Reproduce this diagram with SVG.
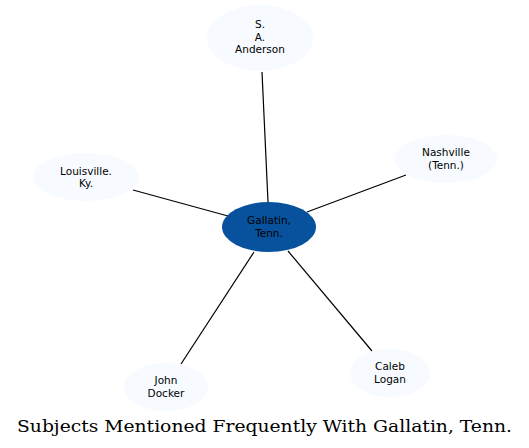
<svg xmlns="http://www.w3.org/2000/svg" width="529" height="448" viewBox="0 0 529 448">
<style>
.n{fill:#f7fbff;stroke:none}
.c{fill:#08519c;stroke:none}
.t{font-family:"DejaVu Sans",sans-serif;font-size:10.5px;text-anchor:middle;fill:#000}
.e{stroke:#000;stroke-width:1.2;fill:none}
.title{font-family:"DejaVu Serif",serif;font-size:16.5px;text-anchor:middle;fill:#000}
</style>
<rect width="529" height="448" fill="#fff"/>
<g id="edges">
<path class="e" d="M262,72L268,202"/>
<path class="e" d="M406,175L307,212"/>
<path class="e" d="M133,190L228,216"/>
<path class="e" d="M254,252L181,364"/>
<path class="e" d="M288,251L372,351"/>
</g>
<g id="anderson"><ellipse class="n" cx="260" cy="38" rx="53" ry="33"/><text class="t" x="260" y="28">S.</text><text class="t" x="260" y="40.5">A.</text><text class="t" x="260" y="53">Anderson</text></g>
<g id="gallatin"><ellipse class="c" cx="269" cy="227" rx="47" ry="25"/><text class="t" x="269" y="224">Gallatin,</text><text class="t" x="269" y="236.5">Tenn.</text></g>
<g id="nashville"><ellipse class="n" cx="446" cy="159" rx="51" ry="24"/><text class="t" x="446" y="156">Nashville</text><text class="t" x="446" y="168.5">(Tenn.)</text></g>
<g id="louisville"><ellipse class="n" cx="86" cy="177" rx="53" ry="24"/><text class="t" x="86" y="174.5">Louisville.</text><text class="t" x="86" y="187">Ky.</text></g>
<g id="john"><ellipse class="n" cx="166" cy="387" rx="42" ry="24"/><text class="t" x="166" y="384">John</text><text class="t" x="166" y="396.5">Docker</text></g>
<g id="caleb"><ellipse class="n" cx="390" cy="373" rx="40" ry="24"/><text class="t" x="390" y="370">Caleb</text><text class="t" x="390" y="382.5">Logan</text></g>
<text class="title" x="264.5" y="432" textLength="495" lengthAdjust="spacingAndGlyphs">Subjects Mentioned Frequently With Gallatin, Tenn.</text>
</svg>
